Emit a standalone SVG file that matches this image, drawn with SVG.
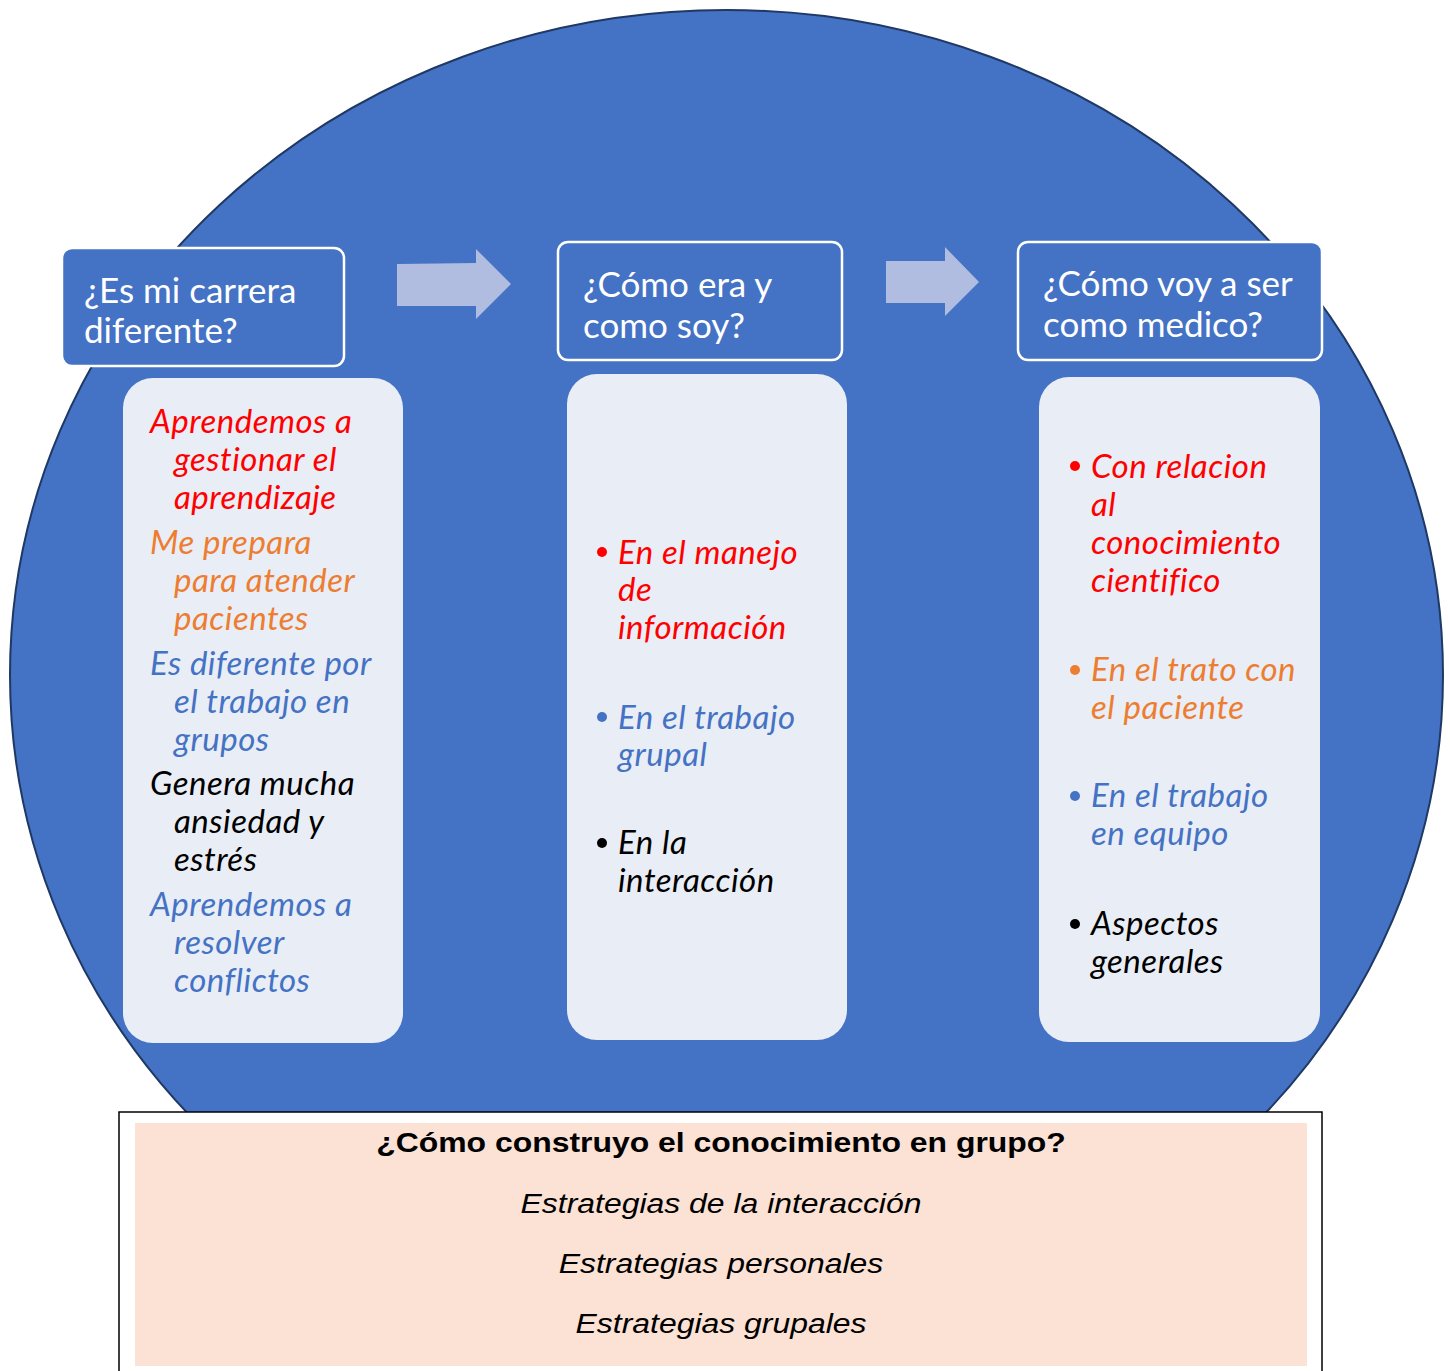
<svg xmlns="http://www.w3.org/2000/svg" width="1450" height="1371" viewBox="0 0 1450 1371">
<defs>
<style>
.hdr{fill:#4472C4;stroke:#FFFFFF;stroke-width:2.5}
.hdrt{font-family:Lato,"Open Sans",sans-serif;font-size:35px;fill:#FFFFFF}
.body{fill:#E9EDF5}
.it{font-family:Lato,"Open Sans",sans-serif;font-size:33px;font-style:italic;letter-spacing:0.5px}
.red{fill:#FF0000}
.org{fill:#ED7D31}
.blu{fill:#4472C4}
.blk{fill:#000000}
.arr{fill:#B0BCE0}
.bt{font-family:"Liberation Sans",Arial,sans-serif;font-size:28px;fill:#000000;text-anchor:middle}
</style>
</defs>
<rect width="1450" height="1371" fill="#FFFFFF"/>
<g id="circle">
<ellipse cx="726.5" cy="675" rx="716.5" ry="665" fill="#4472C4" stroke="#1F3864" stroke-width="2"/>
</g>
<g id="connectors">
<polygon class="arr" points="397,264 476,263 476,249 511,284 476,319 476,306 397,306"/>
<polygon class="arr" points="886,261 945,261 945,247 979,282 945,316 945,303 886,303"/>
</g>
<g id="node-carrera">
<rect class="hdr" x="62" y="248" width="282" height="118" rx="10"/>
<text class="hdrt" x="84" y="303">¿Es mi carrera</text>
<text class="hdrt" x="84" y="343">diferente?</text>
</g>
<g id="node-carrera-body">
<rect class="body" x="123" y="378" width="280" height="665" rx="30"/>
<text class="it red"><tspan x="150" y="433">Aprendemos a</tspan><tspan x="174" y="471">gestionar el</tspan><tspan x="174" y="509">aprendizaje</tspan></text>
<text class="it org"><tspan x="150" y="554">Me prepara</tspan><tspan x="174" y="592">para atender</tspan><tspan x="174" y="630">pacientes</tspan></text>
<text class="it blu"><tspan x="150" y="675">Es diferente por</tspan><tspan x="174" y="713">el trabajo en</tspan><tspan x="174" y="751">grupos</tspan></text>
<text class="it blk"><tspan x="150" y="795">Genera mucha</tspan><tspan x="174" y="833">ansiedad y</tspan><tspan x="174" y="871">estrés</tspan></text>
<text class="it blu"><tspan x="150" y="916">Aprendemos a</tspan><tspan x="174" y="954">resolver</tspan><tspan x="174" y="992">conflictos</tspan></text>
</g>
<g id="node-era">
<rect class="hdr" x="558" y="242" width="284" height="118" rx="10"/>
<text class="hdrt" x="583" y="297">¿Cómo era y</text>
<text class="hdrt" x="583" y="338">como soy?</text>
</g>
<g id="node-era-body">
<rect class="body" x="567" y="374" width="280" height="666" rx="30"/>
<circle class="red" cx="602" cy="552" r="5"/>
<text class="it red"><tspan x="618" y="564">En el manejo</tspan><tspan x="618" y="601">de</tspan><tspan x="618" y="639">información</tspan></text>
<circle class="blu" cx="602" cy="717" r="5"/>
<text class="it blu"><tspan x="618" y="729">En el trabajo</tspan><tspan x="618" y="766">grupal</tspan></text>
<circle class="blk" cx="602" cy="843" r="5"/>
<text class="it blk"><tspan x="618" y="854">En la</tspan><tspan x="618" y="892">interacción</tspan></text>
</g>
<g id="node-medico">
<rect class="hdr" x="1018" y="242" width="304" height="118" rx="10"/>
<text class="hdrt" x="1043" y="296">¿Cómo voy a ser</text>
<text class="hdrt" x="1043" y="337">como medico?</text>
</g>
<g id="node-medico-body">
<rect class="body" x="1039" y="377" width="281" height="665" rx="30"/>
<circle class="red" cx="1075" cy="466" r="5"/>
<text class="it red"><tspan x="1091" y="478">Con relacion</tspan><tspan x="1091" y="516">al</tspan><tspan x="1091" y="554">conocimiento</tspan><tspan x="1091" y="592">cientifico</tspan></text>
<circle class="org" cx="1075" cy="670" r="5"/>
<text class="it org"><tspan x="1091" y="681">En el trato con</tspan><tspan x="1091" y="719">el paciente</tspan></text>
<circle class="blu" cx="1075" cy="796" r="5"/>
<text class="it blu"><tspan x="1091" y="807">En el trabajo</tspan><tspan x="1091" y="845">en equipo</tspan></text>
<circle class="blk" cx="1075" cy="924" r="5"/>
<text class="it blk"><tspan x="1091" y="935">Aspectos</tspan><tspan x="1091" y="973">generales</tspan></text>
</g>
<g id="node-grupo">
<rect x="119" y="1112" width="1203" height="270" fill="#FFFFFF" stroke="#000000" stroke-width="1.5"/>
<rect x="135" y="1123" width="1172" height="243" fill="#FBE2D5"/>
<g transform="translate(721,0) scale(1.14,1)">
<text class="bt" x="0" y="1152" font-weight="bold">¿Cómo construyo el conocimiento en grupo?</text>
<text class="bt" x="0" y="1213" font-style="italic">Estrategias de la interacción</text>
<text class="bt" x="0" y="1273" font-style="italic">Estrategias personales</text>
<text class="bt" x="0" y="1333" font-style="italic">Estrategias grupales</text>
</g>
</g>
</svg>
